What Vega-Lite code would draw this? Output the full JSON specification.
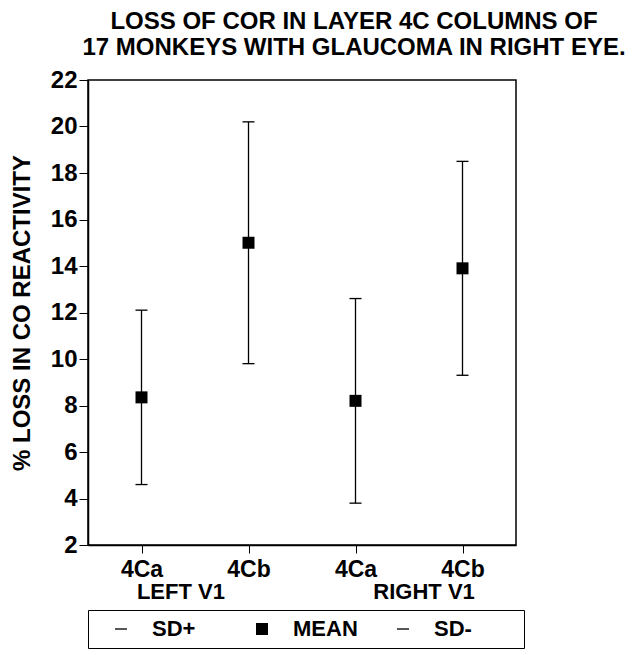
{
  "$schema": "https://vega.github.io/schema/vega-lite/v6.json",
  "autosize": {"type": "none"},
  "padding": {"left": 88, "top": 80, "right": 126, "bottom": 110},
  "width": 428,
  "height": 465,
  "background": "white",
  "title": {
    "text": ["LOSS OF COR IN LAYER 4C COLUMNS OF", "17 MONKEYS WITH GLAUCOMA IN RIGHT EYE."],
    "font": "Liberation Sans",
    "fontSize": 24,
    "fontWeight": "bold",
    "color": "black",
    "lineHeight": 26,
    "anchor": "middle",
    "frame": "group",
    "dx": 52,
    "offset": 8
  },
  "config": {
    "view": {"stroke": "black", "strokeWidth": 1.5},
    "font": "Liberation Sans",
    "axis": {
      "grid": false,
      "domainColor": "black",
      "domainWidth": 1.5,
      "tickColor": "black",
      "tickWidth": 1,
      "labelColor": "black",
      "labelFont": "Liberation Sans",
      "labelFontWeight": "bold",
      "labelFontSize": 23,
      "titleFont": "Liberation Sans",
      "titleFontWeight": "bold",
      "titleColor": "black"
    },
    "axisY": {"labelFont": "Liberation Sans", "labelFontWeight": "bold", "labelFontSize": 24},
    "axisLeft": {"labelFont": "Liberation Sans", "labelFontWeight": "bold", "labelFontSize": 24}
  },
  "datasets": {
    "columns": [
      {"key": "LEFT 4Ca", "mean": 8.35, "lower": 4.6, "upper": 12.1},
      {"key": "LEFT 4Cb", "mean": 15.0, "lower": 9.8, "upper": 20.2},
      {"key": "RIGHT 4Ca", "mean": 8.2, "lower": 3.8, "upper": 12.6},
      {"key": "RIGHT 4Cb", "mean": 13.9, "lower": 9.3, "upper": 18.5}
    ],
    "sides": [
      {"side": "LEFT V1"},
      {"side": "RIGHT V1"}
    ]
  },
  "layer": [
    {
      "data": {"name": "columns"},
      "encoding": {
        "x": {
          "field": "key",
          "type": "nominal",
          "scale": {"type": "point", "padding": 0.5, "domain": ["LEFT 4Ca", "LEFT 4Cb", "RIGHT 4Ca", "RIGHT 4Cb"]},
          "axis": {
            "title": null,
            "orient": "bottom",
            "labelAngle": 0,
            "tickSize": 8,
            "labelPadding": 5,
            "labelFontWeight": "bold",
            "labelFontSize": 23,
            "labelExpr": "slice(datum.label, -3)"
          }
        }
      },
      "layer": [
        {
          "mark": {"type": "rule", "color": "black", "strokeWidth": 1.3},
          "encoding": {
            "y": {
              "field": "lower",
              "type": "quantitative",
              "title": "% LOSS IN CO REACTIVITY",
              "scale": {"domain": [2, 22], "nice": false, "zero": false},
              "axis": {
                "values": [2, 4, 6, 8, 10, 12, 14, 16, 18, 20, 22],
                "tickSize": 9,
                "labelPadding": 2,
                "labelFont": "Liberation Sans",
                "labelFontWeight": "bold",
                "labelFontSize": 24,
                "titleFontSize": 24,
                "titleFontWeight": "bold",
                "titlePadding": 16
              }
            },
            "y2": {"field": "upper"}
          }
        },
        {
          "transform": [{"fold": ["upper", "mean", "lower"], "as": ["stat", "value"]}],
          "mark": {
            "type": "point",
            "filled": true,
            "color": "black",
            "strokeWidth": 0,
            "size": 144,
            "opacity": 1
          },
          "encoding": {
            "y": {"field": "value", "type": "quantitative", "title": "% LOSS IN CO REACTIVITY"},
            "shape": {
              "field": "stat",
              "type": "nominal",
              "scale": {
                "domain": ["upper", "mean", "lower"],
                "range": ["M-1,-0.11H1V0.11H-1Z", "square", "M-1,-0.11H1V0.11H-1Z"]
              },
              "legend": {
                "title": " ",
                "titleOrient": "right",
                "titlePadding": 44,
                "titleFontSize": 22,
                "orient": "bottom",
                "direction": "horizontal",
                "offset": 8,
                "padding": 8,
                "strokeColor": "black",
                "gridAlign": "all",
                "columnPadding": 20,
                "labelOffset": 20,
                "symbolOffset": 14,
                "symbolSize": 144,
                "symbolStrokeWidth": 0,
                "symbolFillColor": "black",
                "labelFont": "Liberation Sans",
                "labelFontWeight": "bold",
                "labelFontSize": 22,
                "labelColor": "black",
                "labelExpr": "datum.label === 'upper' ? 'SD+' : datum.label === 'mean' ? 'MEAN' : 'SD-'"
              }
            }
          }
        }
      ]
    },
    {
      "data": {"name": "sides"},
      "mark": {"type": "point", "opacity": 0},
      "encoding": {
        "x": {
          "field": "side",
          "type": "nominal",
          "scale": {"type": "point", "padding": 0.38},
          "axis": {
            "title": null,
            "orient": "bottom",
            "labelAngle": 0,
            "domain": false,
            "ticks": false,
            "offset": 30,
            "labelPadding": 6,
            "labelFontSize": 22
          }
        }
      }
    }
  ],
  "resolve": {"scale": {"x": "independent"}, "axis": {"x": "independent"}}
}
